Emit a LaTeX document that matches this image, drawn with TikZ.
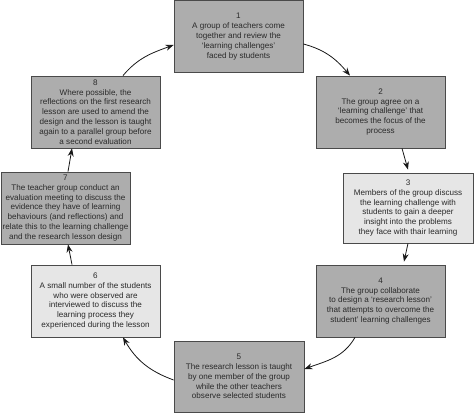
\documentclass[tikz,border=0pt]{standalone}
\usepackage{fontspec}
\setmainfont{Liberation Sans}
\usetikzlibrary{arrows.meta}
\definecolor{darkfill}{HTML}{ADADAD}
\definecolor{lightfill}{HTML}{E6E6E6}
\definecolor{edgecol}{HTML}{4A4A4A}
\definecolor{txtcol}{HTML}{2A2A2A}
\begin{document}
\begin{tikzpicture}[x=1pt,y=1pt,
  stepbox/.style={draw=edgecol,line width=0.8pt,rectangle,minimum width=129pt,minimum height=72pt,
    align=center,text=txtcol,font=\fontsize{8.1}{9.8}\selectfont,inner sep=0.5pt},
  dark/.style={stepbox,fill=darkfill},
  light/.style={stepbox,fill=lightfill},
  flow/.style={draw=black!90,line width=0.8pt,-{Stealth[length=8pt,width=6pt]}}]
\useasboundingbox (0,0) rectangle (474,414);
\node[dark] (b1) at (238.5,377.5) {1\\A group of teachers come\\together and review the\\‘learning challenges’\\faced by students};
\node[dark] (b2) at (380.5,302) {2\\The group agree on a\\‘learning challenge’ that\\becomes the focus of the\\process};
\node[light,minimum width=130pt,minimum height=70pt] (b3) at (408,206) {3\\Members of the group discuss\\the learning challenge with\\students to gain a deeper\\insight into the problems\\they face with thair learning};
\node[dark] (b4) at (380.5,113) {4\\The group collaborate\\to design a ‘research lesson’\\that attempts to overcome the\\student’ learning challenges};
\node[dark,minimum width=130pt,minimum height=71pt] (b5) at (239,37.5) {5\\The research lesson is taught\\by one member of the group\\while the other teachers\\observe selected students};
\node[light] (b6) at (95.5,113) {6\\A small number of the students\\who were observed are\\interviewed to discuss the\\learning process they\\experienced during the lesson};
\node[dark] (b7) at (65.5,206) {7\\The teacher group conduct an\\evaluation meeting to discuss the\\evidence they have of learning\\behaviours (and reflections) and\\relate this to the learning challenge\\and the research lesson design};
\node[dark] (b8) at (95.5,302) {8\\Where possible, the\\reflections on the first research\\lesson are used to amend the\\design and the lesson is taught\\again to a parallel group before\\a second evaluation};
\draw[flow] ([yshift=-7.5pt]b1.east) to[out=-15,in=130] ([xshift=-30.5pt]b2.north);
\draw[flow] ([xshift=21.5pt]b2.south) -- ([yshift=3pt]b3.north);
\draw[flow] (b3.south) -- ([xshift=23.5pt,yshift=3pt]b4.north);
\draw[flow] ([xshift=-25.5pt]b4.south) to[out=-120,in=20] ([yshift=7.5pt]b5.east);
\draw[flow] ([yshift=-3.5pt]b5.west) to[out=160,in=-60] ([xshift=27.5pt]b6.south);
\draw[flow] ([xshift=-23.5pt]b6.north) -- ([xshift=2.5pt]b7.south);
\draw[flow] ([xshift=2.5pt]b7.north) -- ([xshift=-23.5pt]b8.south);
\draw[flow] ([xshift=27.5pt]b8.north) to[out=50,in=200] ([yshift=-8.5pt]b1.west);
\end{tikzpicture}
\end{document}
